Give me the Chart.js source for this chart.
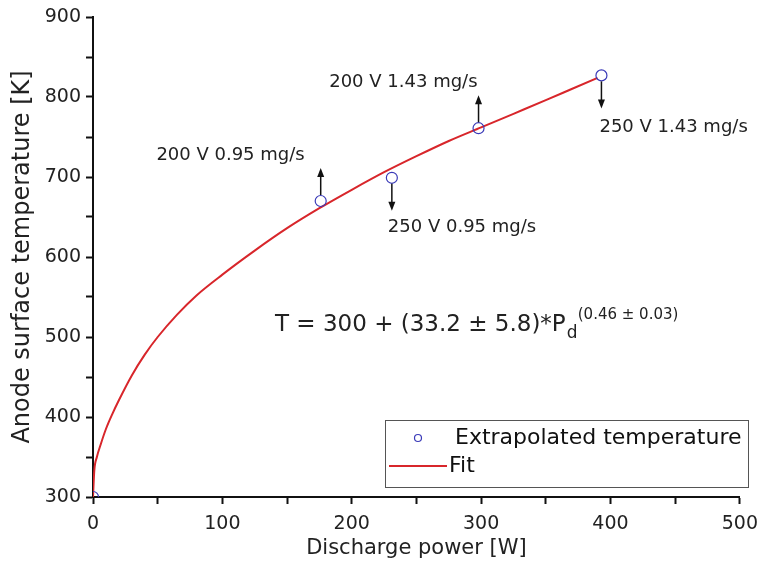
<!DOCTYPE html>
<html>
<head>
<meta charset="utf-8">
<script src="https://cdn.jsdelivr.net/npm/chart.js@4.4.1/dist/chart.umd.min.js"></script>
<style>
  html, body { margin: 0; padding: 0; background: #fff; }
  #wrap { width: 767px; height: 578px; }
</style>
</head>
<body>
<div id="wrap"><canvas id="chart"></canvas></div>
<script>
// --- data ---
const powerW = [0, 176, 231, 298, 393];
const tempK = [300, 670, 699, 761, 827];
const pointLabels = ['', '200 V 0.95 mg/s', '250 V 0.95 mg/s', '200 V 1.43 mg/s', '250 V 1.43 mg/s'];
const arrowDir = [0, 1, -1, 1, -1]; // 1 = up, -1 = down

const fitPower = [0, 1, 3, 6, 10, 15, 20, 30, 40, 50, 65, 80, 100, 125, 150, 175, 200, 225, 250, 275, 300, 325, 350, 370, 390];
const fitTemp = [300, 333, 350, 366, 385, 404, 421, 452, 478, 500, 528, 552, 578, 608, 636, 661, 684, 706, 726, 745, 762, 779, 796, 810, 824];

const xTicks = [0, 100, 200, 300, 400, 500];
const yTicks = [300, 400, 500, 600, 700, 800, 900];

const FONT = '"DejaVu Sans", sans-serif';
const BLUE = '#3a3ab8';
const RED = '#d8262b';

// label placement relative to each point (style only)
const labelPlace = [
    null,
    { align: 'right', dx: -16, dy: -46 },
    { align: 'left', dx: -4, dy: 50 },
    { align: 'right', dx: -1, dy: -46 },
    { align: 'left', dx: -2, dy: 52 }
];

function drawArrow(ctx, x, y0, y1) {
    const dir = y1 < y0 ? -1 : 1;
    ctx.beginPath();
    ctx.moveTo(x, y0);
    ctx.lineTo(x, y1 - dir * 7);
    ctx.stroke();
    ctx.beginPath();
    ctx.moveTo(x, y1);
    ctx.lineTo(x - 3.5, y1 - dir * 9);
    ctx.lineTo(x + 3.5, y1 - dir * 9);
    ctx.closePath();
    ctx.fill();
}

const extras = {
    id: 'extras',
    afterDatasetsDraw(chart) {
        const ctx = chart.ctx;
        const xs = chart.scales.x, ys = chart.scales.y;
        ctx.save();
        ctx.strokeStyle = '#111';
        ctx.lineWidth = 1.5;

        // arrows + condition labels
        powerW.forEach((p, i) => {
            if (!arrowDir[i]) return;
            const px = xs.getPixelForValue(p);
            const py = ys.getPixelForValue(tempK[i]);
            ctx.fillStyle = '#111';
            drawArrow(ctx, px, py - arrowDir[i] * 6, py - arrowDir[i] * 33);
            const pl = labelPlace[i];
            ctx.fillStyle = '#222';
            ctx.font = '18px ' + FONT;
            ctx.textAlign = pl.align;
            ctx.textBaseline = 'middle';
            ctx.fillText(pointLabels[i], px + pl.dx, py + pl.dy);
        });

        // fit equation
        ctx.fillStyle = '#222';
        ctx.textAlign = 'left';
        ctx.textBaseline = 'alphabetic';
        ctx.font = '23px ' + FONT;
        const main = 'T = 300 + (33.2 \u00b1 5.8)*P';
        const ex = 275, ey = 331;
        ctx.fillText(main, ex, ey);
        const w = ctx.measureText(main).width;
        ctx.font = '17px ' + FONT;
        ctx.fillText('d', ex + w + 1, ey + 7);
        ctx.font = '15px ' + FONT;
        ctx.fillText('(0.46 \u00b1 0.03)', ex + w + 12, ey - 12);

        // legend box
        const lx = 385, ly = 420, lw = 363, lh = 67;
        ctx.fillStyle = '#fff';
        ctx.fillRect(lx, ly, lw, lh);
        ctx.strokeStyle = '#555';
        ctx.lineWidth = 1;
        ctx.strokeRect(lx + 0.5, ly + 0.5, lw, lh);
        const ds = chart.data.datasets;
        ctx.strokeStyle = ds[0].borderColor;
        ctx.lineWidth = 1.2;
        ctx.beginPath();
        ctx.arc(418, 438, 3.5, 0, Math.PI * 2);
        ctx.stroke();
        ctx.strokeStyle = ds[1].borderColor;
        ctx.lineWidth = 2;
        ctx.beginPath();
        ctx.moveTo(389, 466);
        ctx.lineTo(447, 466);
        ctx.stroke();
        ctx.fillStyle = '#111';
        ctx.font = '22px ' + FONT;
        ctx.textBaseline = 'middle';
        ctx.fillText(ds[0].label, 455, 438);
        ctx.fillText(ds[1].label, 449, 466);
        ctx.restore();
    }
};

new Chart(document.getElementById('chart'), {
    type: 'scatter',
    data: {
        datasets: [
            {
                label: 'Extrapolated temperature',
                data: powerW.map((p, i) => ({ x: p, y: tempK[i] })),
                borderColor: BLUE,
                backgroundColor: 'rgba(0,0,0,0)',
                borderWidth: 1.2,
                pointRadius: 5.5,
                pointHoverRadius: 5.5,
                clip: 0,
                order: 0
            },
            {
                label: 'Fit',
                type: 'line',
                data: fitPower.map((p, i) => ({ x: p, y: fitTemp[i] })),
                borderColor: RED,
                borderWidth: 2,
                pointRadius: 0,
                fill: false,
                cubicInterpolationMode: 'monotone',
                order: 1
            }
        ]
    },
    options: {
        responsive: true,
        maintainAspectRatio: false,
        animation: false,
        events: [],
        layout: { padding: { left: 0, top: 17, right: 26, bottom: 0 } },
        plugins: {
            legend: { display: false },
            tooltip: { enabled: false }
        },
        scales: {
            x: {
                type: 'linear',
                min: 0, max: 500,
                afterBuildTicks: s => {
                    s.ticks = [];
                    for (let v = 0; v <= 500; v += 50) s.ticks.push({ value: v });
                },
                afterFit: s => { s.height = 81; },
                border: { display: true, color: '#111', width: 2 },
                grid: { drawOnChartArea: false, drawTicks: true, tickLength: 7, color: '#111', tickWidth: 2 },
                ticks: {
                    autoSkip: false,
                    maxRotation: 0,
                    padding: 9,
                    color: '#222',
                    font: { family: FONT, size: 19 },
                    callback: v => xTicks.includes(v) ? String(v) : ''
                },
                title: {
                    display: true,
                    text: 'Discharge power [W]',
                    color: '#222',
                    font: { family: FONT, size: 21 },
                    padding: { top: 4, bottom: 17 }
                }
            },
            y: {
                type: 'linear',
                min: 300, max: 900,
                afterBuildTicks: s => {
                    s.ticks = [];
                    for (let v = 300; v <= 900; v += 50) s.ticks.push({ value: v });
                },
                afterFit: s => { s.width = 93; },
                border: { display: true, color: '#111', width: 2 },
                grid: { drawOnChartArea: false, drawTicks: true, tickLength: 7, color: '#111', tickWidth: 2 },
                ticks: {
                    autoSkip: false,
                    padding: 5,
                    color: '#222',
                    font: { family: FONT, size: 19 },
                    callback: v => yTicks.includes(v) ? String(v) : ''
                },
                title: {
                    display: true,
                    text: 'Anode surface temperature [K]',
                    color: '#222',
                    font: { family: FONT, size: 24 },
                    padding: { top: 8, bottom: 4 }
                }
            }
        }
    },
    plugins: [extras]
});
</script>
</body>
</html>
